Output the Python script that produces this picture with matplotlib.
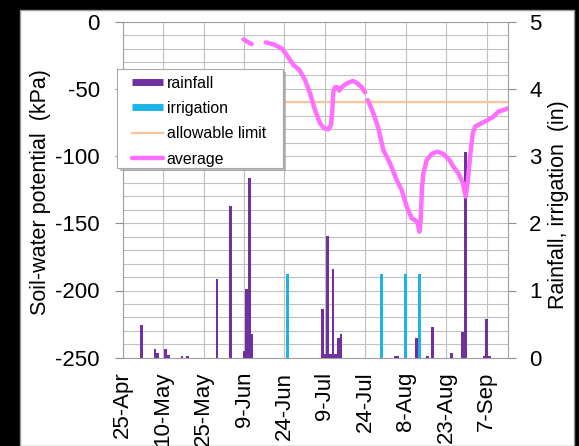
import numpy as np
import matplotlib
matplotlib.use('Agg')
import matplotlib.pyplot as plt
from matplotlib.patches import Rectangle
from matplotlib.lines import Line2D
from matplotlib.ticker import MultipleLocator, FixedLocator

plt.rcParams['font.family'] = ['Liberation Sans', 'DejaVu Sans']
plt.rcParams['axes.unicode_minus'] = False

# ---------------- data ----------------
# x positions are days after 25-Apr
tick_days = [0, 15, 30, 45, 60, 75, 90, 105, 120, 135]
tick_labels = ['25-Apr', '10-May', '25-May', '9-Jun', '24-Jun',
               '9-Jul', '24-Jul', '8-Aug', '23-Aug', '7-Sep']
x_start, x_end = 0, 143

rain_day = [7, 12, 13, 16, 17, 22, 24, 35, 40, 45, 46, 47, 48,
            74, 75, 76, 77, 78, 79, 80, 81, 101, 102, 109, 113,
            115, 122, 126, 127, 134, 135, 136]
rain_in = [0.48, 0.13, 0.07, 0.13, 0.04, 0.03, 0.02, 1.17, 2.26, 0.10, 1.02, 2.67, 0.36,
           0.72, 0.05, 1.81, 0.05, 1.32, 0.05, 0.30, 0.36, 0.03, 0.02, 0.30, 0.02,
           0.46, 0.065, 0.38, 3.06, 0.03, 0.58, 0.03]

irr_day = [61, 96, 105, 110]
irr_in = [1.25, 1.25, 1.25, 1.25]

limit_kpa = -60

avg_day = [44.75, 46.35, 47.84, 50.0,
           53.03, 55.87, 58.96, 60.82, 63.29, 65.52, 67.62, 69.48, 71.33, 73.18,
           74.67, 76.27, 77.26, 77.75, 78.12, 78.74, 79.60, 80.35, 81.21, 83.07,
           85.30, 86.78, 88.64, 89.87, 90.3,
           90.86, 92.96, 94.81, 96.67, 99.14, 101.61, 103.47, 105.32, 107.18,
           108.42, 109.28, 110.03, 110.52, 111.02, 111.51, 112.75, 114.60,
           116.70, 118.93, 121.15, 122.64, 124.49, 126.10, 127.21, 127.96,
           128.82, 129.81, 130.68, 132.53, 135.0, 137.47, 139.33, 141.18, 143.04]
avg_kpa = [-13.1, -15.1, -16.6, np.nan,
           -15.4, -16.8, -19.8, -24.8, -32.2, -35.9, -43.4, -53.3, -65.7, -75.6,
           -79.3, -80.1, -76.9, -65.7, -52.1, -48.8, -48.8, -51.3, -48.8, -45.9,
           -44.1, -45.4, -48.8, -52.6, np.nan,
           -58.3, -68.2, -79.3, -95.5, -105.4, -117.8, -125.2, -137.6, -146.3,
           -147.6, -149.5, -156.2, -147.6, -122.8, -112.8, -102.9, -98.4,
           -96.7, -98.4, -102.9, -107.9, -112.8, -119.8, -130.2, -119.0,
           -100.4, -83.1, -78.1, -76.1, -73.6, -70.7, -66.9, -65.7, -64.4]

legend_labels = ['rainfall', 'irrigation', 'allowable limit', 'average']

# ---------------- style ----------------
c_rain = '#7030A0'
c_irr = '#1CB4E8'
c_limit = '#F9C49A'
c_avg = '#FF6EFF'
c_grid = '#C0C0C0'
c_spine = '#A0A0A0'

W, H = 579, 446


def fx(px):
    return px / W


def fy(py):
    return 1 - py / H


fig = plt.figure(figsize=(W / 100, H / 100), dpi=100, facecolor='black')
fig.patches.append(Rectangle((fx(20), 0), (574 - 20) / W, (446 - 10) / H,
                             transform=fig.transFigure, facecolor='white',
                             edgecolor='#9a9a9a', lw=1, zorder=-10))

L, R, T, B = 122.7, 508.3, 21.7, 357.7
rect = [fx(L), fy(B), (R - L) / W, (B - T) / H]

# right axis (bars + grid)
ax_r = fig.add_axes(rect)
ax_r.set_facecolor('white')
ax_r.set_xlim(x_start, x_end)
ax_r.set_ylim(0, 5)
ax_r.set_axisbelow(True)
ax_r.yaxis.tick_right()
ax_r.yaxis.set_major_locator(MultipleLocator(1))
ax_r.yaxis.set_minor_locator(MultipleLocator(0.2))
ax_r.xaxis.set_major_locator(FixedLocator(tick_days))
ax_r.set_xticklabels(tick_labels, rotation=90)
ax_r.grid(which='both', axis='y', color=c_grid, lw=0.8)
ax_r.grid(which='major', axis='x', color=c_grid, lw=0.8)
ax_r.tick_params(axis='y', which='major', direction='out', length=5.5,
                 color='#8c8c8c', pad=9.5, labelsize=16)
ax_r.tick_params(axis='y', which='minor', length=0)
ax_r.tick_params(axis='x', length=0, pad=10, labelsize=16)
for s in ax_r.spines.values():
    s.set_color(c_spine)
    s.set_linewidth(0.8)

ax_r.bar(rain_day, rain_in, width=1.0, color=c_rain, lw=0, zorder=3)
ax_r.bar(irr_day, irr_in, width=1.2, color=c_irr, lw=0, zorder=3)

# left axis (line)
ax_l = fig.add_axes(rect, sharex=ax_r)
ax_l.set_zorder(ax_r.get_zorder() + 1)
ax_l.patch.set_visible(False)
ax_l.set_ylim(-250, 0)
ax_l.yaxis.set_major_locator(MultipleLocator(50))
ax_l.tick_params(axis='y', direction='out', length=5.5, color='#8c8c8c',
                 pad=11, labelsize=16)
ax_l.tick_params(axis='x', labelbottom=False, length=0)
for s in ax_l.spines.values():
    s.set_visible(False)

ax_l.axhline(limit_kpa, color=c_limit, lw=1.6, zorder=3)
ax_l.plot(avg_day, avg_kpa, color=c_avg, lw=3.2, solid_capstyle='round',
          solid_joinstyle='round', zorder=4)

# axis titles
fig.text(fx(41), fy(192), 'Soil-water potential  (kPa)', rotation=90,
         ha='center', va='center', fontsize=15.5)
fig.text(fx(558.5), fy(205), 'Rainfall, irrigation  (in)', rotation=90,
         ha='center', va='center', fontsize=15.5)

# legend box with shadow
shadow = Rectangle((fx(117 + 3), fy(168 + 3)), (283 - 117) / W, (168 - 69) / H,
                   transform=fig.transFigure, facecolor='#9a9a9a', alpha=0.6,
                   lw=0, zorder=10, clip_on=False)
box = Rectangle((fx(117), fy(168)), (283 - 117) / W, (168 - 69) / H,
                transform=fig.transFigure, facecolor='white', edgecolor='#a8a8a8',
                lw=0.8, zorder=11, clip_on=False)
ax_l.add_patch(shadow)
ax_l.add_patch(box)

handles = [Line2D([], [], color=c_rain, lw=5, solid_capstyle='butt'),
           Line2D([], [], color=c_irr, lw=5, solid_capstyle='butt'),
           Line2D([], [], color=c_limit, lw=1.6),
           Line2D([], [], color=c_avg, lw=3.2, solid_capstyle='round')]
leg = ax_l.legend(handles, legend_labels, loc='upper left',
                  bbox_to_anchor=(fx(131.7), fy(75.5)), bbox_transform=fig.transFigure,
                  frameon=False, fontsize=11.4, handlelength=2.0, handletextpad=0.2,
                  labelspacing=0.66, borderpad=0, borderaxespad=0)
leg.set_zorder(20)

fig.savefig('out.png', dpi=100, facecolor=fig.get_facecolor())
